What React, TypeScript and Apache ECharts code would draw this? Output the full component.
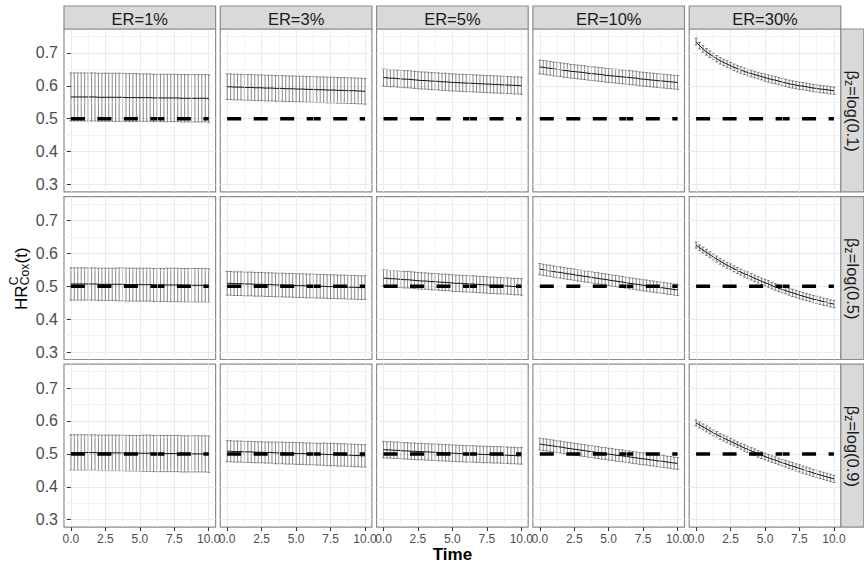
import React, { useEffect, useRef } from "react";
import * as echarts from "echarts";

// ---------- data ----------
const times = [0, 0.25, 0.5, 0.75, 1, 1.25, 1.5, 1.75, 2, 2.25, 2.5, 2.75, 3, 3.25, 3.5, 3.75, 4, 4.25, 4.5, 4.75, 5, 5.25, 5.5, 5.75, 6, 6.25, 6.5, 6.75, 7, 7.25, 7.5, 7.75, 8, 8.25, 8.5, 8.75, 9, 9.25, 9.5, 9.75, 10];
const erLabels = ["ER=1%", "ER=3%", "ER=5%", "ER=10%", "ER=30%"];
const betaLabels = ["=log(0.1)", "=log(0.5)", "=log(0.9)"];
const refValue = 0.5;
const refTimes = [0, 10];
const xTicks = [0, 2.5, 5, 7.5, 10];
const xMinor = [1.25, 3.75, 6.25, 8.75];
const yTicks = [0.3, 0.4, 0.5, 0.6, 0.7];
const yMinor = [0.35, 0.45, 0.55, 0.65, 0.75];

// beta_z = log(0.1)
const hrL01E1 = [
  0.566, 0.566, 0.566, 0.566, 0.566, 0.566, 0.566, 0.566, 0.565, 0.565,
  0.565, 0.565, 0.565, 0.565, 0.565, 0.565, 0.564, 0.564, 0.564, 0.564,
  0.564, 0.564, 0.564, 0.564, 0.563, 0.563, 0.563, 0.563, 0.563, 0.563,
  0.563, 0.563, 0.562, 0.562, 0.562, 0.562, 0.562, 0.562, 0.562, 0.562,
  0.561];
const hwL01E1 = [
  0.073, 0.073, 0.073, 0.073, 0.073, 0.073, 0.073, 0.073, 0.073, 0.073,
  0.073, 0.073, 0.073, 0.073, 0.073, 0.073, 0.073, 0.073, 0.073, 0.073,
  0.072, 0.072, 0.072, 0.072, 0.072, 0.072, 0.072, 0.072, 0.072, 0.072,
  0.072, 0.072, 0.072, 0.072, 0.072, 0.072, 0.072, 0.072, 0.072, 0.072,
  0.072];
const hrL01E3 = [
  0.597, 0.597, 0.596, 0.596, 0.596, 0.595, 0.595, 0.595, 0.594, 0.594,
  0.594, 0.593, 0.593, 0.593, 0.592, 0.592, 0.592, 0.591, 0.591, 0.591,
  0.590, 0.590, 0.590, 0.589, 0.589, 0.589, 0.588, 0.588, 0.588, 0.587,
  0.587, 0.587, 0.586, 0.586, 0.586, 0.585, 0.585, 0.585, 0.584, 0.584,
  0.583];
const hwL01E3 = [
  0.039, 0.039, 0.039, 0.039, 0.039, 0.039, 0.039, 0.039, 0.039, 0.039,
  0.039, 0.039, 0.039, 0.039, 0.039, 0.039, 0.039, 0.039, 0.039, 0.039,
  0.039, 0.039, 0.039, 0.039, 0.039, 0.039, 0.039, 0.039, 0.039, 0.039,
  0.039, 0.039, 0.039, 0.039, 0.039, 0.039, 0.039, 0.039, 0.039, 0.039,
  0.039];
const hrL01E5 = [
  0.625, 0.624, 0.623, 0.623, 0.622, 0.621, 0.620, 0.620, 0.619, 0.618,
  0.617, 0.616, 0.616, 0.615, 0.614, 0.614, 0.613, 0.612, 0.612, 0.611,
  0.610, 0.610, 0.609, 0.609, 0.608, 0.608, 0.607, 0.607, 0.606, 0.606,
  0.605, 0.605, 0.604, 0.604, 0.603, 0.603, 0.602, 0.602, 0.601, 0.601,
  0.600];
const hwL01E5 = [
  0.026, 0.026, 0.026, 0.026, 0.026, 0.026, 0.026, 0.026, 0.026, 0.026,
  0.026, 0.026, 0.026, 0.026, 0.026, 0.026, 0.026, 0.026, 0.026, 0.026,
  0.026, 0.026, 0.026, 0.026, 0.026, 0.026, 0.026, 0.026, 0.026, 0.026,
  0.026, 0.026, 0.026, 0.026, 0.026, 0.026, 0.026, 0.026, 0.026, 0.026,
  0.026];
const hrL01E10 = [
  0.657, 0.656, 0.654, 0.653, 0.651, 0.650, 0.649, 0.647, 0.646, 0.644,
  0.643, 0.642, 0.641, 0.640, 0.638, 0.637, 0.636, 0.635, 0.634, 0.632,
  0.631, 0.630, 0.629, 0.628, 0.627, 0.626, 0.625, 0.624, 0.623, 0.621,
  0.620, 0.619, 0.618, 0.617, 0.616, 0.615, 0.614, 0.613, 0.612, 0.611,
  0.610];
const hwL01E10 = [
  0.021, 0.021, 0.021, 0.021, 0.021, 0.021, 0.021, 0.021, 0.021, 0.021,
  0.021, 0.021, 0.021, 0.021, 0.021, 0.021, 0.021, 0.021, 0.021, 0.021,
  0.021, 0.021, 0.021, 0.021, 0.021, 0.021, 0.021, 0.021, 0.021, 0.021,
  0.021, 0.021, 0.021, 0.021, 0.021, 0.021, 0.021, 0.021, 0.021, 0.021,
  0.021];
const hrL01E30 = [
  0.734, 0.722, 0.712, 0.703, 0.696, 0.689, 0.682, 0.676, 0.671, 0.666,
  0.661, 0.656, 0.652, 0.648, 0.644, 0.640, 0.637, 0.634, 0.631, 0.628,
  0.625, 0.622, 0.619, 0.617, 0.614, 0.611, 0.609, 0.606, 0.604, 0.602,
  0.600, 0.599, 0.597, 0.595, 0.593, 0.592, 0.590, 0.589, 0.588, 0.586,
  0.585];
const hwL01E30 = [
  0.010, 0.010, 0.010, 0.010, 0.010, 0.010, 0.010, 0.010, 0.010, 0.010,
  0.010, 0.010, 0.010, 0.010, 0.010, 0.010, 0.010, 0.010, 0.010, 0.010,
  0.011, 0.011, 0.011, 0.011, 0.011, 0.011, 0.011, 0.011, 0.011, 0.011,
  0.011, 0.011, 0.011, 0.011, 0.011, 0.011, 0.011, 0.011, 0.011, 0.011,
  0.011];

// beta_z = log(0.5)
const hrL05E1 = [
  0.507, 0.507, 0.507, 0.507, 0.507, 0.507, 0.507, 0.507, 0.506, 0.506,
  0.506, 0.506, 0.506, 0.506, 0.506, 0.506, 0.505, 0.505, 0.505, 0.505,
  0.505, 0.505, 0.505, 0.505, 0.504, 0.504, 0.504, 0.504, 0.504, 0.504,
  0.504, 0.504, 0.503, 0.503, 0.503, 0.503, 0.503, 0.503, 0.503, 0.503,
  0.502];
const hwL05E1 = [
  0.049, 0.049, 0.049, 0.049, 0.049, 0.049, 0.049, 0.049, 0.049, 0.049,
  0.049, 0.049, 0.049, 0.049, 0.050, 0.050, 0.050, 0.050, 0.050, 0.050,
  0.050, 0.050, 0.050, 0.050, 0.050, 0.050, 0.050, 0.050, 0.051, 0.051,
  0.051, 0.051, 0.051, 0.051, 0.051, 0.051, 0.051, 0.051, 0.051, 0.051,
  0.051];
const hrL05E3 = [
  0.509, 0.509, 0.508, 0.508, 0.508, 0.507, 0.507, 0.507, 0.506, 0.506,
  0.506, 0.505, 0.505, 0.505, 0.504, 0.504, 0.504, 0.503, 0.503, 0.503,
  0.502, 0.502, 0.502, 0.501, 0.501, 0.501, 0.500, 0.500, 0.500, 0.499,
  0.499, 0.499, 0.498, 0.498, 0.498, 0.497, 0.497, 0.497, 0.496, 0.496,
  0.496];
const hwL05E3 = [
  0.036, 0.036, 0.036, 0.036, 0.036, 0.036, 0.036, 0.036, 0.036, 0.036,
  0.036, 0.036, 0.036, 0.036, 0.036, 0.036, 0.036, 0.036, 0.036, 0.036,
  0.036, 0.036, 0.036, 0.036, 0.036, 0.036, 0.036, 0.036, 0.036, 0.036,
  0.036, 0.036, 0.036, 0.036, 0.036, 0.036, 0.036, 0.036, 0.036, 0.036,
  0.036];
const hrL05E5 = [
  0.525, 0.524, 0.523, 0.523, 0.522, 0.521, 0.520, 0.520, 0.519, 0.518,
  0.517, 0.516, 0.516, 0.515, 0.514, 0.514, 0.513, 0.512, 0.512, 0.511,
  0.510, 0.509, 0.509, 0.508, 0.508, 0.507, 0.507, 0.506, 0.505, 0.505,
  0.504, 0.503, 0.503, 0.502, 0.502, 0.501, 0.501, 0.500, 0.499, 0.499,
  0.498];
const hwL05E5 = [
  0.025, 0.025, 0.025, 0.025, 0.025, 0.025, 0.025, 0.025, 0.025, 0.025,
  0.025, 0.025, 0.025, 0.025, 0.025, 0.025, 0.025, 0.025, 0.025, 0.025,
  0.025, 0.025, 0.025, 0.025, 0.025, 0.025, 0.025, 0.025, 0.025, 0.025,
  0.025, 0.025, 0.025, 0.025, 0.025, 0.025, 0.025, 0.025, 0.025, 0.025,
  0.025];
const hrL05E10 = [
  0.552, 0.550, 0.548, 0.547, 0.545, 0.543, 0.542, 0.540, 0.538, 0.537,
  0.535, 0.533, 0.532, 0.530, 0.529, 0.527, 0.525, 0.524, 0.522, 0.521,
  0.519, 0.517, 0.516, 0.514, 0.513, 0.511, 0.509, 0.508, 0.506, 0.505,
  0.503, 0.502, 0.500, 0.499, 0.497, 0.496, 0.495, 0.493, 0.492, 0.490,
  0.489];
const hwL05E10 = [
  0.017, 0.017, 0.017, 0.017, 0.017, 0.017, 0.017, 0.017, 0.017, 0.017,
  0.017, 0.017, 0.017, 0.017, 0.017, 0.017, 0.017, 0.017, 0.017, 0.017,
  0.017, 0.017, 0.017, 0.017, 0.017, 0.017, 0.017, 0.017, 0.017, 0.017,
  0.017, 0.017, 0.017, 0.017, 0.017, 0.017, 0.017, 0.017, 0.017, 0.017,
  0.017];
const hrL05E30 = [
  0.625, 0.617, 0.610, 0.603, 0.596, 0.589, 0.583, 0.576, 0.570, 0.564,
  0.559, 0.553, 0.548, 0.543, 0.538, 0.534, 0.529, 0.524, 0.520, 0.515,
  0.511, 0.507, 0.502, 0.498, 0.494, 0.490, 0.487, 0.483, 0.480, 0.477,
  0.473, 0.470, 0.467, 0.464, 0.461, 0.459, 0.456, 0.453, 0.451, 0.448,
  0.446];
const hwL05E30 = [
  0.009, 0.009, 0.009, 0.009, 0.009, 0.009, 0.009, 0.009, 0.009, 0.009,
  0.009, 0.009, 0.009, 0.009, 0.010, 0.010, 0.010, 0.010, 0.010, 0.010,
  0.010, 0.010, 0.010, 0.010, 0.010, 0.010, 0.010, 0.010, 0.011, 0.011,
  0.011, 0.011, 0.011, 0.011, 0.011, 0.011, 0.011, 0.011, 0.011, 0.011,
  0.011];

// beta_z = log(0.9)
const hrL09E1 = [
  0.504, 0.504, 0.504, 0.504, 0.504, 0.504, 0.504, 0.504, 0.503, 0.503,
  0.503, 0.503, 0.503, 0.503, 0.503, 0.503, 0.502, 0.502, 0.502, 0.502,
  0.502, 0.502, 0.502, 0.502, 0.501, 0.501, 0.501, 0.501, 0.501, 0.501,
  0.501, 0.501, 0.500, 0.500, 0.500, 0.500, 0.500, 0.500, 0.500, 0.500,
  0.499];
const hwL09E1 = [
  0.054, 0.054, 0.054, 0.054, 0.054, 0.054, 0.054, 0.054, 0.054, 0.054,
  0.054, 0.054, 0.054, 0.054, 0.054, 0.054, 0.054, 0.054, 0.054, 0.054,
  0.054, 0.055, 0.055, 0.055, 0.055, 0.055, 0.055, 0.055, 0.055, 0.055,
  0.055, 0.055, 0.055, 0.055, 0.055, 0.055, 0.055, 0.055, 0.055, 0.055,
  0.055];
const hrL09E3 = [
  0.508, 0.508, 0.507, 0.507, 0.507, 0.506, 0.506, 0.506, 0.505, 0.505,
  0.505, 0.504, 0.504, 0.504, 0.503, 0.503, 0.503, 0.502, 0.502, 0.502,
  0.501, 0.501, 0.501, 0.500, 0.500, 0.500, 0.499, 0.499, 0.499, 0.498,
  0.498, 0.498, 0.497, 0.497, 0.497, 0.496, 0.496, 0.495, 0.495, 0.494,
  0.494];
const hwL09E3 = [
  0.032, 0.032, 0.032, 0.032, 0.032, 0.032, 0.032, 0.032, 0.032, 0.032,
  0.032, 0.032, 0.032, 0.032, 0.033, 0.033, 0.033, 0.033, 0.033, 0.033,
  0.033, 0.033, 0.033, 0.033, 0.033, 0.033, 0.033, 0.033, 0.034, 0.034,
  0.034, 0.034, 0.034, 0.034, 0.034, 0.034, 0.034, 0.034, 0.034, 0.034,
  0.034];
const hrL09E5 = [
  0.513, 0.512, 0.512, 0.511, 0.511, 0.510, 0.509, 0.509, 0.508, 0.508,
  0.507, 0.507, 0.506, 0.506, 0.505, 0.505, 0.504, 0.504, 0.503, 0.503,
  0.502, 0.502, 0.501, 0.501, 0.500, 0.500, 0.500, 0.499, 0.499, 0.498,
  0.498, 0.498, 0.497, 0.497, 0.497, 0.496, 0.496, 0.495, 0.495, 0.494,
  0.494];
const hwL09E5 = [
  0.025, 0.025, 0.025, 0.025, 0.025, 0.025, 0.025, 0.025, 0.025, 0.025,
  0.025, 0.025, 0.025, 0.025, 0.025, 0.025, 0.025, 0.025, 0.025, 0.025,
  0.025, 0.025, 0.025, 0.025, 0.025, 0.025, 0.025, 0.025, 0.025, 0.025,
  0.025, 0.025, 0.025, 0.025, 0.025, 0.025, 0.025, 0.025, 0.025, 0.025,
  0.025];
const hrL09E10 = [
  0.530, 0.528, 0.527, 0.525, 0.524, 0.522, 0.521, 0.519, 0.517, 0.516,
  0.514, 0.513, 0.511, 0.510, 0.508, 0.507, 0.505, 0.504, 0.502, 0.501,
  0.499, 0.498, 0.496, 0.495, 0.494, 0.492, 0.491, 0.489, 0.488, 0.486,
  0.485, 0.484, 0.482, 0.481, 0.479, 0.478, 0.477, 0.475, 0.474, 0.472,
  0.471];
const hwL09E10 = [
  0.018, 0.018, 0.018, 0.018, 0.018, 0.018, 0.018, 0.018, 0.018, 0.018,
  0.018, 0.018, 0.018, 0.018, 0.018, 0.018, 0.018, 0.018, 0.018, 0.018,
  0.018, 0.018, 0.018, 0.018, 0.018, 0.018, 0.018, 0.018, 0.018, 0.018,
  0.018, 0.018, 0.018, 0.018, 0.018, 0.018, 0.018, 0.018, 0.018, 0.018,
  0.018];
const hrL09E30 = [
  0.594, 0.588, 0.582, 0.576, 0.570, 0.564, 0.559, 0.553, 0.548, 0.543,
  0.538, 0.533, 0.528, 0.523, 0.518, 0.514, 0.509, 0.505, 0.500, 0.496,
  0.492, 0.488, 0.484, 0.481, 0.477, 0.473, 0.470, 0.466, 0.463, 0.459,
  0.456, 0.452, 0.449, 0.446, 0.442, 0.439, 0.436, 0.433, 0.430, 0.427,
  0.424];
const hwL09E30 = [
  0.009, 0.009, 0.009, 0.009, 0.009, 0.009, 0.009, 0.009, 0.009, 0.009,
  0.009, 0.009, 0.009, 0.009, 0.010, 0.010, 0.010, 0.010, 0.010, 0.010,
  0.010, 0.010, 0.010, 0.010, 0.010, 0.010, 0.010, 0.010, 0.011, 0.011,
  0.011, 0.011, 0.011, 0.011, 0.011, 0.011, 0.011, 0.011, 0.011, 0.011,
  0.011];

const panelMeans = [
  [hrL01E1, hrL01E3, hrL01E5, hrL01E10, hrL01E30],
  [hrL05E1, hrL05E3, hrL05E5, hrL05E10, hrL05E30],
  [hrL09E1, hrL09E3, hrL09E5, hrL09E10, hrL09E30],
];
const panelHalfWidths = [
  [hwL01E1, hwL01E3, hwL01E5, hwL01E10, hwL01E30],
  [hwL05E1, hwL05E3, hwL05E5, hwL05E10, hwL05E30],
  [hwL09E1, hwL09E3, hwL09E5, hwL09E10, hwL09E30],
];

// ---------- layout ----------
const W = 864;
const H = 563;
const colLeft = [64, 220.3, 376.6, 532.9, 689.2];
const rowTop = [29, 196.6, 364.2];
const panelW = 151.6;
const panelH = 162.9;
const stripH = 23;
const FONT = '"Liberation Sans", Arial, Helvetica, sans-serif';
const borderColor = "#8c8c8c";
const gridColor = "#EBEBEB";

export default function App() {
  const ref = useRef<HTMLDivElement>(null);

  useEffect(() => {
    if (!ref.current) return;
    const chart = echarts.init(ref.current, undefined, { renderer: "svg" });

    const grids: any[] = [];
    const xAxes: any[] = [];
    const yAxes: any[] = [];
    const series: any[] = [];
    const graphics: any[] = [];

    for (let r = 0; r < 3; r++) {
      for (let c = 0; c < 5; c++) {
        const i = r * 5 + c;
        grids.push({
          left: colLeft[c],
          top: rowTop[r],
          width: panelW,
          height: panelH,
          show: true,
          backgroundColor: "#ffffff",
          borderColor,
          borderWidth: 1.2,
          containLabel: false,
        });
        xAxes.push({
          type: "value",
          gridIndex: i,
          min: -0.5,
          max: 10.5,
          axisLine: { show: false },
          axisTick: {
            show: r === 2,
            length: 4,
            customValues: xTicks,
            lineStyle: { color: "#333333", width: 1 },
          },
          axisLabel: {
            show: r === 2,
            customValues: xTicks,
            formatter: (v: number) => v.toFixed(1),
            fontSize: 12,
            fontFamily: FONT,
            color: "#4D4D4D",
            margin: 6,
          },
          splitLine: { show: true, lineStyle: { color: gridColor, width: 1 } },
        });
        yAxes.push({
          type: "value",
          gridIndex: i,
          min: 0.2775,
          max: 0.7725,
          axisLine: { show: false },
          axisTick: {
            show: c === 0,
            length: 4,
            customValues: yTicks,
            lineStyle: { color: "#333333", width: 1 },
          },
          axisLabel: {
            show: c === 0,
            customValues: yTicks,
            formatter: (v: number) => v.toFixed(1),
            fontSize: 16,
            fontFamily: FONT,
            color: "#4D4D4D",
            margin: 6,
          },
          splitLine: { show: true, lineStyle: { color: gridColor, width: 1 } },
        });

        const means = panelMeans[r][c];
        const hws = panelHalfWidths[r][c];
        const barData = times.map((t, k) => [t, means[k] - hws[k], means[k] + hws[k]]);
        const lineData = times.map((t, k) => [t, means[k]]);

        // minor grid lines
        series.push({
          type: "line",
          xAxisIndex: i,
          yAxisIndex: i,
          data: [],
          z: 1,
          silent: true,
          markLine: {
            silent: true,
            animation: false,
            symbol: ["none", "none"],
            label: { show: false },
            lineStyle: { color: gridColor, width: 0.6, type: "solid" },
            data: [
              ...xMinor.map((v) => ({ xAxis: v })),
              ...yMinor.map((v) => ({ yAxis: v })),
            ],
          },
        });

        // error bars
        series.push({
          type: "custom",
          xAxisIndex: i,
          yAxisIndex: i,
          z: 2,
          silent: true,
          encode: { x: 0, y: [1, 2] },
          data: barData,
          renderItem: (params: any, api: any) => {
            const x = api.value(0);
            const lo = api.value(1);
            const hi = api.value(2);
            const pLo = api.coord([x, lo]);
            const pHi = api.coord([x, hi]);
            const half = api.size([0.22, 0])[0] / 2;
            const style = { stroke: "#3a3a3a", lineWidth: 0.6, fill: null };
            return {
              type: "group",
              children: [
                { type: "line", shape: { x1: pLo[0], y1: pHi[1], x2: pLo[0], y2: pLo[1] }, style },
                { type: "line", shape: { x1: pLo[0] - half, y1: pHi[1], x2: pLo[0] + half, y2: pHi[1] }, style },
                { type: "line", shape: { x1: pLo[0] - half, y1: pLo[1], x2: pLo[0] + half, y2: pLo[1] }, style },
              ],
            };
          },
        });

        // mean line
        series.push({
          type: "line",
          xAxisIndex: i,
          yAxisIndex: i,
          z: 3,
          silent: true,
          data: lineData,
          showSymbol: false,
          symbol: "none",
          lineStyle: { color: "#111111", width: 1 },
        });

        // reference dashed line
        series.push({
          type: "line",
          xAxisIndex: i,
          yAxisIndex: i,
          z: 4,
          silent: true,
          data: refTimes.map((t) => [t, refValue]),
          showSymbol: false,
          symbol: "none",
          lineStyle: { color: "#000000", width: 3.5, type: [14, 12.5], cap: "butt" },
        });
      }
    }

    const stripFont = `16.5px ${FONT}`;

    // top strips
    for (let c = 0; c < 5; c++) {
      graphics.push({
        type: "rect",
        shape: { x: colLeft[c], y: rowTop[0] - stripH, width: panelW, height: stripH },
        style: { fill: "#D9D9D9", stroke: borderColor, lineWidth: 1.2 },
        z: 10,
      });
      graphics.push({
        type: "text",
        x: colLeft[c] + panelW / 2,
        y: rowTop[0] - stripH / 2 + 1,
        style: {
          text: erLabels[c],
          font: stripFont,
          fill: "#1A1A1A",
          align: "center",
          verticalAlign: "middle",
        },
        z: 11,
      });
    }

    // right strips
    const stripX = colLeft[4] + panelW;
    for (let r = 0; r < 3; r++) {
      graphics.push({
        type: "rect",
        shape: { x: stripX, y: rowTop[r], width: stripH, height: panelH },
        style: { fill: "#D9D9D9", stroke: borderColor, lineWidth: 1.2 },
        z: 10,
      });
      const cy = rowTop[r] + panelH / 2;
      graphics.push({
        type: "group",
        x: stripX + stripH / 2 + 0.5,
        y: cy - 40,
        rotation: -Math.PI / 2,
        z: 11,
        children: [
          { type: "text", z: 12, x: 0, y: 0, style: { text: "β", font: stripFont, fill: "#1A1A1A", align: "left", verticalAlign: "middle" } },
          { type: "text", z: 12, x: 9.5, y: 4, style: { text: "z", font: `12px ${FONT}`, fill: "#1A1A1A", align: "left", verticalAlign: "middle" } },
          { type: "text", z: 12, x: 15.8, y: 0, style: { text: betaLabels[r], font: stripFont, fill: "#1A1A1A", align: "left", verticalAlign: "middle" } },
        ],
      });
    }

    // y axis title: HR^C_Cox(t)
    graphics.push({
      type: "group",
      x: 21,
      y: 310,
      rotation: Math.PI / 2,
      z: 11,
      children: [
        { type: "text", z: 12, x: 0, y: 0, style: { text: "HR", font: `17px ${FONT}`, fill: "#000000", align: "left", verticalAlign: "middle" } },
        { type: "text", z: 12, x: 24.8, y: -7.5, style: { text: "C", font: `12px ${FONT}`, fill: "#000000", align: "left", verticalAlign: "middle" } },
        { type: "text", z: 12, x: 24.8, y: 3.5, style: { text: "Cox", font: `12px ${FONT}`, fill: "#000000", align: "left", verticalAlign: "middle" } },
        { type: "text", z: 12, x: 46.5, y: 0, style: { text: "(t)", font: `17px ${FONT}`, fill: "#000000", align: "left", verticalAlign: "middle" } },
      ],
    });

    // x axis title
    graphics.push({
      type: "text",
      x: (colLeft[0] + colLeft[4] + panelW) / 2,
      y: 554,
      style: {
        text: "Time",
        font: `bold 17px ${FONT}`,
        fill: "#000000",
        align: "center",
        verticalAlign: "middle",
      },
      z: 11,
    });

    chart.setOption({
      animation: false,
      backgroundColor: "#ffffff",
      textStyle: { fontFamily: FONT },
      grid: grids,
      xAxis: xAxes,
      yAxis: yAxes,
      series,
      graphic: graphics,
    });

    return () => chart.dispose();
  }, []);

  return (
    <div
      ref={ref}
      style={{ position: "fixed", left: 0, top: 0, width: W, height: H, background: "#fff" }}
    />
  );
}
